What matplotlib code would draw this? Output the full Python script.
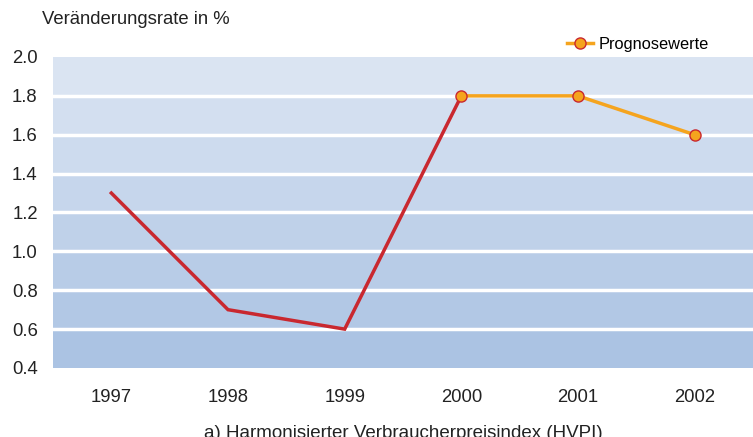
import matplotlib
matplotlib.use("Agg")
from matplotlib import pyplot as plt
from matplotlib.colors import to_rgb
import numpy as np

plt.rcParams['font.family'] = ['Liberation Sans', 'DejaVu Sans']

years = [1997, 1998, 1999, 2000, 2001, 2002]
actual_years = [1997, 1998, 1999, 2000]
actual_vals = [1.3, 0.7, 0.6, 1.8]
fc_years = [2000, 2001, 2002]
fc_vals = [1.8, 1.8, 1.6]
yticks = [0.4, 0.6, 0.8, 1.0, 1.2, 1.4, 1.6, 1.8, 2.0]

fig = plt.figure(figsize=(7.53, 4.37), dpi=100)
ax = fig.add_axes([53/753, 1-368/437, 1-53/753, (368-57)/437])

# banded background, light on top -> darker at bottom
top_c = np.array(to_rgb("#dae4f2"))
bot_c = np.array(to_rgb("#abc3e3"))
nb = len(yticks) - 1
for i in range(nb):
    f = i/(nb-1)
    col = bot_c*(1-f) + top_c*f
    ax.axhspan(yticks[i], yticks[i+1], color=col, lw=0, zorder=0)
for y in yticks[1:-1]:
    ax.axhline(y, color="white", lw=2.5, zorder=1)

ax.plot(actual_years, actual_vals, color="#c9282f", lw=2.5, zorder=3,
        solid_joinstyle="miter")
ax.plot(fc_years, fc_vals, color="#f5a41e", lw=2.5, zorder=3,
        marker="o", ms=8, mfc="#f5a41e", mec="#c9282f", mew=1,
        label="Prognosewerte")

ax.set_xlim(1996.5, 2002.5)
ax.set_ylim(0.4, 2.0)
ax.set_xticks(years)
ax.set_xticklabels([str(y) for y in years])
ax.set_yticks(yticks)
ax.set_yticklabels(["%.1f" % y for y in yticks])
ax.tick_params(length=0, labelsize=13.3, colors="#222222")
ax.tick_params(axis="x", pad=15)
ax.tick_params(axis="y", pad=11)
for s in ax.spines.values():
    s.set_visible(False)

fig.text(42/753, 1-20/437, "Veränderungsrate in %", fontsize=13.3,
         color="#222222", va="center", ha="left")
fig.text(403/753, 1-433/437, "a) Harmonisierter Verbraucherpreisindex (HVPI)",
         fontsize=13.5, color="#222222", va="center", ha="center")

leg = fig.legend(loc="center left", bbox_to_anchor=(559/753, 1-44/437),
                 frameon=False, fontsize=11.8, handlelength=1.6,
                 handletextpad=0.3, borderpad=0)

fig.savefig("out.png", dpi=100)
